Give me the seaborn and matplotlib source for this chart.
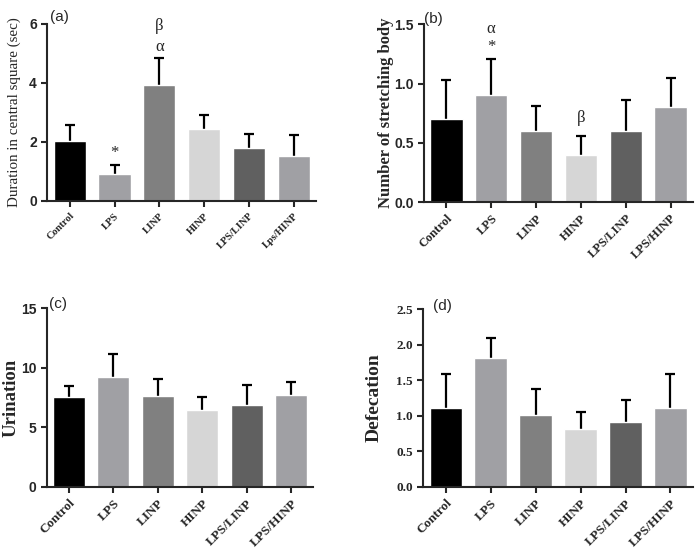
import numpy as np
import pandas as pd
import matplotlib
matplotlib.use("Agg")
import matplotlib.pyplot as plt
import seaborn as sns

# grupos y valores
grupos_a = ["Control", "LPS", "LINP", "HINP", "LPS/LINP", "Lps/HINP"]
grupos = ["Control", "LPS", "LINP", "HINP", "LPS/LINP", "LPS/HINP"]

duracion = [2.02, 0.91, 3.93, 2.43, 1.81, 1.52]
duracion_sup = [2.56, 1.21, 4.86, 2.92, 2.27, 2.22]

estiramiento = [0.70, 0.90, 0.60, 0.40, 0.60, 0.80]
estiramiento_sup = [1.03, 1.21, 0.81, 0.56, 0.865, 1.047]

orina = [7.54, 9.22, 7.65, 6.42, 6.84, 7.74]
orina_sup = [8.47, 11.13, 9.05, 7.54, 8.52, 8.80]

defecacion = [1.11, 1.81, 1.01, 0.81, 0.91, 1.11]
defecacion_sup = [1.58, 2.09, 1.37, 1.05, 1.22, 1.58]

colores = ["#000000", "#a0a0a4", "#808080", "#d6d6d6", "#606060", "#a0a0a4"]

sns.set_style("ticks")
plt.rcParams["font.family"] = ["Liberation Sans", "DejaVu Sans"]
plt.rcParams["axes.linewidth"] = 1.5
plt.rcParams["xtick.major.width"] = 1.5
plt.rcParams["ytick.major.width"] = 1.5
plt.rcParams["xtick.major.size"] = 4
plt.rcParams["ytick.major.size"] = 4

SERIF = ["Liberation Serif", "DejaVu Serif"]

fig = plt.figure(figsize=(6.95, 5.55), dpi=100)
ax_a = fig.add_axes([0.068, 0.638, 0.387, 0.319])
ax_b = fig.add_axes([0.610, 0.636, 0.387, 0.320])
ax_c = fig.add_axes([0.067, 0.123, 0.384, 0.322])
ax_d = fig.add_axes([0.609, 0.123, 0.388, 0.320])


def panel(ax, etiquetas, medias, superiores, ylim, yticks, ylabel, ylabel_kw,
          tick_fs, ytick_serif, xtick_fs, letra, letra_pos, label_x):
    df = pd.DataFrame({"grupo": etiquetas, "valor": medias})
    sns.barplot(data=df, x="grupo", y="valor", hue="grupo", palette=colores,
                legend=False, errorbar=None, width=0.72, saturation=1,
                ax=ax, zorder=2)
    medias = np.array(medias)
    err = np.array(superiores) - medias
    _, caps, _ = ax.errorbar(np.arange(len(medias)), medias,
                             yerr=[np.zeros_like(err), err],
                             fmt="none", ecolor="black", elinewidth=1.6,
                             capsize=3.5, capthick=1.6, zorder=1)
    # solo la barra superior, sin tapa inferior
    caps[0].set_visible(False)
    ax.set_xlim(-0.5, 5.5)
    ax.set_ylim(*ylim)
    ax.set_yticks(yticks)
    if ytick_serif:
        ax.set_yticklabels(ax.get_yticklabels(), fontsize=tick_fs,
                           fontweight="bold", family=SERIF)
    else:
        ax.tick_params(axis="y", labelsize=tick_fs)
        for t in ax.get_yticklabels():
            t.set_fontweight("bold")
    ax.set_xticks(range(len(etiquetas)))
    ax.set_xticklabels(etiquetas, rotation=45, ha="right",
                       rotation_mode="anchor", fontsize=xtick_fs,
                       fontweight="bold", family=SERIF)
    ax.set_xlabel("")
    ax.set_ylabel(ylabel, family=SERIF, **ylabel_kw)
    ax.yaxis.set_label_coords(label_x, 0.5)
    sns.despine(ax=ax)
    ax.text(letra_pos[0], letra_pos[1], letra, transform=ax.transAxes,
            fontsize=11, ha="left", va="center")


panel(ax_a, grupos_a, duracion, duracion_sup, (0, 6), [0, 2, 4, 6],
      "Duration in central square (sec)", dict(fontsize=10.8),
      10, False, 7.5, "(a)", (0.01, 1.04), -0.097)
panel(ax_b, grupos, estiramiento, estiramiento_sup, (0, 1.5),
      [0.0, 0.5, 1.0, 1.5], "Number of stretching body",
      dict(fontsize=12, fontweight="bold"),
      10, False, 9, "(b)", (0.0, 1.03), -0.11)
panel(ax_c, grupos, orina, orina_sup, (0, 15), [0, 5, 10, 15],
      "Urination", dict(fontsize=13.5, fontweight="bold"),
      10, False, 9.5, "(c)", (0.01, 1.02), -0.10)
panel(ax_d, grupos, defecacion, defecacion_sup, (0, 2.5),
      [0.0, 0.5, 1.0, 1.5, 2.0, 2.5], "Defecation",
      dict(fontsize=14, fontweight="bold"),
      9.5, True, 9.5, "(d)", (0.035, 1.02), -0.15)

# marcas de significancia
ax_a.text(1, 1.64, "*", ha="center", va="center", fontsize=12, family=SERIF)
ax_a.text(2, 5.2, "α", ha="center", va="center", fontsize=12, family=SERIF)
ax_a.text(2, 5.92, "β", ha="center", va="center", fontsize=12, family=SERIF)
ax_b.text(1, 1.46, "α", ha="center", va="center", fontsize=12, family=SERIF)
ax_b.text(1, 1.31, "*", ha="center", va="center", fontsize=12, family=SERIF)
ax_b.text(3, 0.71, "β", ha="center", va="center", fontsize=12, family=SERIF)

fig.savefig("out.png", dpi=100)
